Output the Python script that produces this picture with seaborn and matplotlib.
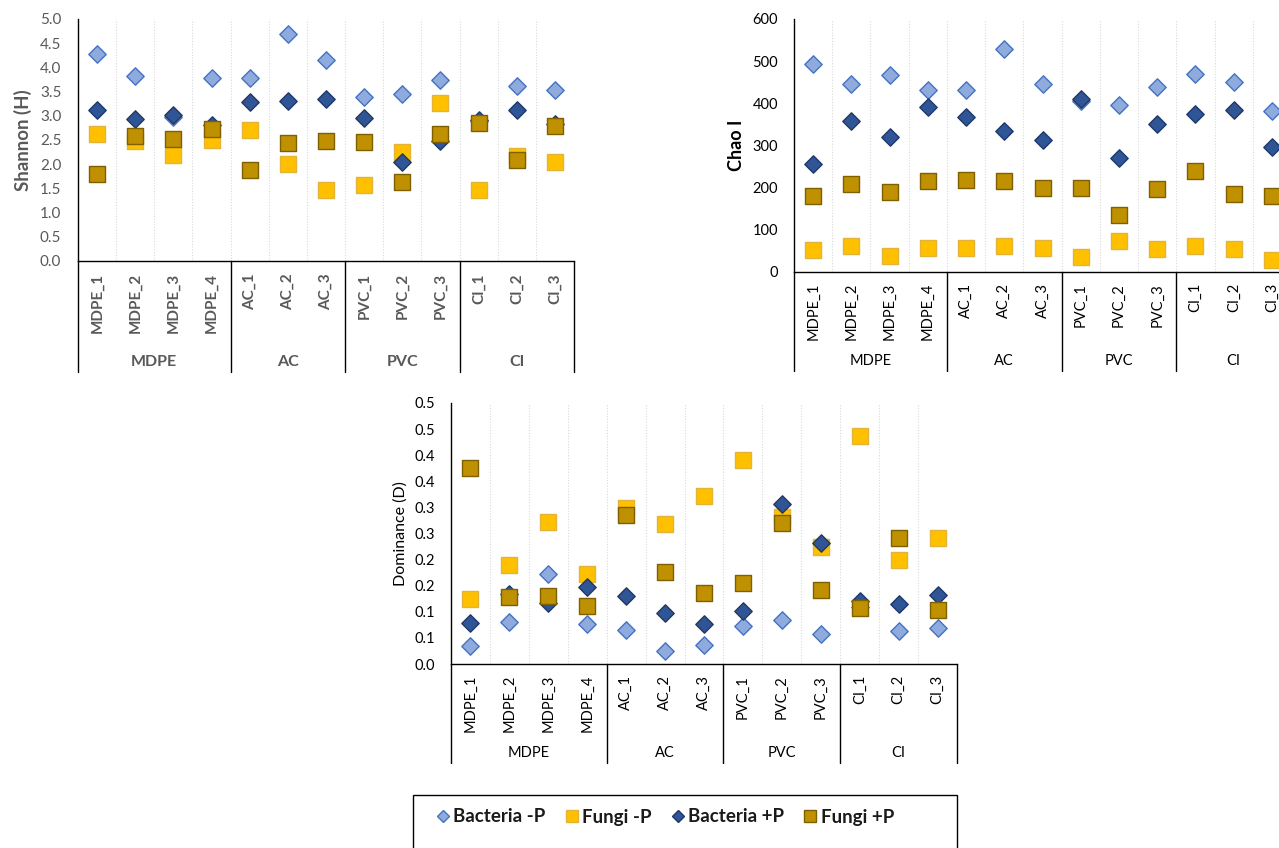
import numpy as np
import pandas as pd
import matplotlib
matplotlib.use("Agg")
import matplotlib.pyplot as plt
import seaborn as sns
from matplotlib.transforms import blended_transform_factory
from matplotlib.lines import Line2D
from matplotlib.patches import Rectangle

# ---------------- data ----------------
samples = ["MDPE_1", "MDPE_2", "MDPE_3", "MDPE_4", "AC_1", "AC_2", "AC_3",
           "PVC_1", "PVC_2", "PVC_3", "CI_1", "CI_2", "CI_3"]
groups = ["MDPE", "AC", "PVC", "CI"]
group_sizes = [4, 3, 3, 3]
series_names = ["Bacteria -P", "Fungi -P", "Bacteria +P", "Fungi +P"]

shannon_bact_minus = [4.27, 3.82, 2.98, 3.78, 3.79, 4.68, 4.16, 3.39, 3.45, 3.74, 2.90, 3.62, 3.53]
shannon_fungi_minus = [2.63, 2.47, 2.19, 2.50, 2.71, 2.01, 1.47, 1.56, 2.25, 3.26, 1.47, 2.16, 2.05]
shannon_bact_plus = [3.13, 2.94, 3.02, 2.82, 3.29, 3.31, 3.34, 2.95, 2.05, 2.48, 2.92, 3.13, 2.84]
shannon_fungi_plus = [1.80, 2.59, 2.52, 2.73, 1.89, 2.44, 2.48, 2.45, 1.63, 2.62, 2.86, 2.08, 2.79]

chao_bact_minus = [493, 445, 468, 432, 432, 529, 447, 405, 395, 438, 469, 451, 381]
chao_fungi_minus = [51, 61, 39, 57, 58, 62, 57, 35, 73, 55, 61, 54, 28]
chao_bact_plus = [255, 357, 321, 391, 367, 334, 313, 411, 270, 352, 374, 384, 297]
chao_fungi_plus = [181, 209, 189, 215, 218, 215, 200, 200, 135, 198, 240, 185, 180]

dom_bact_minus = [0.034, 0.081, 0.172, 0.076, 0.065, 0.024, 0.037, 0.072, 0.084, 0.058, 0.110, 0.063, 0.069]
dom_fungi_minus = [0.125, 0.190, 0.272, 0.172, 0.299, 0.269, 0.321, 0.390, 0.281, 0.224, 0.437, 0.199, 0.241]
dom_bact_plus = [0.078, 0.135, 0.117, 0.148, 0.131, 0.097, 0.076, 0.102, 0.307, 0.231, 0.120, 0.114, 0.132]
dom_fungi_plus = [0.376, 0.128, 0.130, 0.112, 0.286, 0.177, 0.136, 0.156, 0.270, 0.142, 0.108, 0.242, 0.104]

shannon_ticks = [0.0, 0.5, 1.0, 1.5, 2.0, 2.5, 3.0, 3.5, 4.0, 4.5, 5.0]
shannon_ticklabels = ["0.0", "0.5", "1.0", "1.5", "2.0", "2.5", "3.0", "3.5", "4.0", "4.5", "5.0"]
chao_ticks = [0, 100, 200, 300, 400, 500, 600]
chao_ticklabels = ["0", "100", "200", "300", "400", "500", "600"]
dom_ticks = [0.0, 0.05, 0.10, 0.15, 0.20, 0.25, 0.30, 0.35, 0.40, 0.45, 0.50]
dom_ticklabels = ["0.0", "0.1", "0.1", "0.2", "0.2", "0.3", "0.3", "0.4", "0.4", "0.5", "0.5"]

# ---------------- style ----------------
sns.set_style("white")
plt.rcParams["font.family"] = ["Lato", "DejaVu Sans"]

styles = {
    "Bacteria -P": dict(marker="D", face="#8FAADC", edge="#4472C4", s=78),
    "Fungi -P": dict(marker="s", face="#FFC000", edge="#E3B33A", s=118),
    "Bacteria +P": dict(marker="D", face="#2F5597", edge="#203864", s=78),
    "Fungi +P": dict(marker="s", face="#BF9000", edge="#7F6000", s=118),
}

W, H = 1279, 848
fig = plt.figure(figsize=(W / 100, H / 100), dpi=100)


def px_axes(left, right, top, bottom):
    return fig.add_axes([left / W, 1 - bottom / H, (right - left) / W, (bottom - top) / H])


def make_df(vals):
    rows = []
    for name, v in zip(series_names, vals):
        for i, (smp, y) in enumerate(zip(samples, v)):
            rows.append(dict(series=name, sample=smp, pos=i, value=y))
    return pd.DataFrame(rows)


def draw_chart(ax, vals, ylim, ticks, ticklabels, ylabel, cfg):
    df = make_df(vals)
    for name in series_names:
        st = styles[name]
        sub = df[df["series"] == name]
        sns.scatterplot(data=sub, x="pos", y="value", ax=ax, marker=st["marker"],
                        color=st["face"], edgecolor=st["edge"], linewidth=1.0,
                        s=st["s"], legend=False, zorder=3, clip_on=False)
    n = len(samples)
    ax.set_xlim(-0.5, n - 0.5)
    ax.set_ylim(*ylim)
    ax.set_xticks([k + 0.5 for k in range(n)])
    ax.set_xticklabels([])
    ax.tick_params(axis="x", length=0)
    ax.grid(axis="x", color="#D9D9D9", linestyle=(0, (1, 1.5)), linewidth=0.8)
    ax.grid(axis="y", visible=False)
    ax.set_yticks(ticks)
    ax.set_yticklabels(ticklabels, fontsize=cfg["tick_fs"], color=cfg["color"])
    ax.tick_params(axis="y", length=0, pad=cfg["tick_pad"])
    ax.set_xlabel("")
    ax.set_ylabel(ylabel, fontsize=cfg["ylab_fs"], fontweight=cfg["ylab_fw"], color=cfg["color"])
    ax_w = ax.get_position().width * W
    ax_h = ax.get_position().height * H
    ax.yaxis.set_label_coords(-cfg["ylab_off"] / ax_w, 0.5)
    for sp in ["top", "right"]:
        ax.spines[sp].set_visible(False)
    for sp in ["left", "bottom"]:
        ax.spines[sp].set_color("#000000")
        ax.spines[sp].set_linewidth(1.0)

    tr = blended_transform_factory(ax.transData, ax.transAxes)
    # category labels
    for i, smp in enumerate(samples):
        ax.text(i, -cfg["cat_off"] / ax_h, smp, transform=tr, rotation=90, ha="center",
                va="top", fontsize=cfg["cat_fs"], fontweight=cfg["cat_fw"], color=cfg["color"])
    # group separators and labels
    bounds = np.concatenate([[0], np.cumsum(group_sizes)]) - 0.5
    for b in bounds:
        ax.add_line(Line2D([b, b], [0, -cfg["line_len"] / ax_h], transform=tr,
                           color="#000000", linewidth=1.0, clip_on=False))
    for g, a, b in zip(groups, bounds[:-1], bounds[1:]):
        ax.text((a + b) / 2, -cfg["grp_off"] / ax_h, g, transform=tr, ha="center",
                va="center", fontsize=cfg["grp_fs"], fontweight=cfg["grp_fw"], color=cfg["color"])


cfg_shannon = dict(color="#595959", tick_fs=11, tick_pad=12, ylab_fs=13.5, ylab_fw="bold", ylab_off=46,
                   cat_off=12, cat_fs=11, cat_fw="bold", line_len=111, grp_off=101, grp_fs=11.5, grp_fw="bold")
cfg_chao = dict(color="#000000", tick_fs=10.5, tick_pad=11.5, ylab_fs=13, ylab_fw="bold", ylab_off=49,
                cat_off=11, cat_fs=10.5, cat_fw="normal", line_len=99, grp_off=89, grp_fs=10.5, grp_fw="normal")
cfg_dom = dict(color="#000000", tick_fs=10.5, tick_pad=11.5, ylab_fs=11.5, ylab_fw="normal", ylab_off=43,
               cat_off=11, cat_fs=10.5, cat_fw="normal", line_len=99, grp_off=89, grp_fs=10.5, grp_fw="normal")

ax1 = px_axes(78, 574, 19, 261)
draw_chart(ax1, [shannon_bact_minus, shannon_fungi_minus, shannon_bact_plus, shannon_fungi_plus],
           (0, 5.0), shannon_ticks, shannon_ticklabels, "Shannon (H)", cfg_shannon)

ax2 = px_axes(794, 1291, 19, 272)
draw_chart(ax2, [chao_bact_minus, chao_fungi_minus, chao_bact_plus, chao_fungi_plus],
           (0, 600), chao_ticks, chao_ticklabels, "Chao I", cfg_chao)

ax3 = px_axes(451, 957, 403, 664)
draw_chart(ax3, [dom_bact_minus, dom_fungi_minus, dom_bact_plus, dom_fungi_plus],
           (0, 0.5), dom_ticks, dom_ticklabels, "Dominance (D)", cfg_dom)

# ---------------- legend ----------------
fig.add_artist(Rectangle((413 / W, 1 - 852 / H), (957 - 413) / W, (852 - 795) / H,
                         transform=fig.transFigure, facecolor="white", edgecolor="#000000",
                         linewidth=1.0, clip_on=False))
handles = [Line2D([], [], linestyle="none", marker=styles[n]["marker"],
                  markerfacecolor=styles[n]["face"], markeredgecolor=styles[n]["edge"],
                  markeredgewidth=1.0,
                  markersize=6 if styles[n]["marker"] == "D" else 8) for n in series_names]
fig.legend(handles, series_names, loc="center left", bbox_to_anchor=(427 / W, 1 - 817 / H),
           ncol=4, frameon=False, prop=dict(weight="bold", size=13.5), handletextpad=0.1,
           columnspacing=0.95, handlelength=0.9, borderaxespad=0, labelcolor="#1A1A1A")

fig.savefig("out.png", dpi=100)
